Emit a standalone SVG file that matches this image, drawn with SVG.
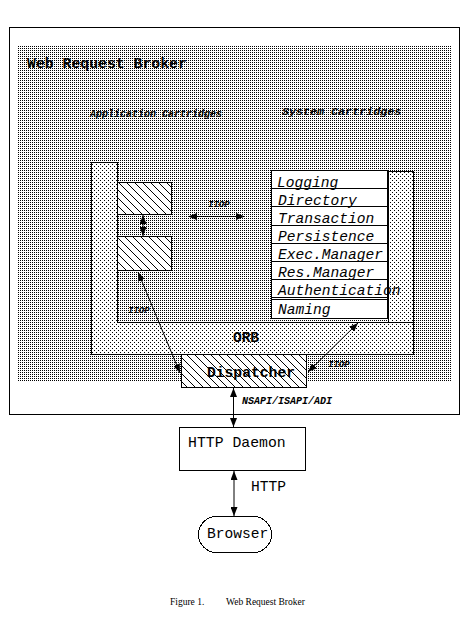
<svg xmlns="http://www.w3.org/2000/svg" width="468" height="618" viewBox="0 0 468 618">
<style>
.box{stroke:#000;stroke-width:1;shape-rendering:crispEdges}
.mono{font-family:"Liberation Mono","DejaVu Sans Mono",monospace;fill:#000}
.b{font-weight:bold}
.i{font-style:italic}
.ln{stroke:#000;stroke-width:1;fill:none}
.row{stroke:#000;stroke-width:1;shape-rendering:crispEdges}
</style>
<defs>
<pattern id="dense" width="2" height="2" patternUnits="userSpaceOnUse">
<rect x="0" y="0" width="2" height="2" fill="#fff"/>
<rect x="0" y="0" width="1" height="1" fill="#000" shape-rendering="crispEdges"/>
</pattern>
<pattern id="light" width="4" height="4" patternUnits="userSpaceOnUse">
<rect x="0" y="0" width="4" height="4" fill="#fff"/>
<rect x="0" y="0" width="1" height="1" fill="#000" shape-rendering="crispEdges"/>
<rect x="2" y="2" width="1" height="1" fill="#000" shape-rendering="crispEdges"/>
</pattern>
<pattern id="hatch" width="8" height="8" patternUnits="userSpaceOnUse">
<rect x="0" y="0" width="8" height="8" fill="#fff"/>
<path d="M0,0 L8,8 M-1,7 L1,9 M7,-1 L9,1" stroke="#000" stroke-width="1"/>
</pattern>
<marker id="ah" viewBox="0 0 9 7" refX="9" refY="3.5" markerWidth="9" markerHeight="7" markerUnits="userSpaceOnUse" orient="auto-start-reverse">
<path d="M0,0 L9,3.5 L0,7 z" fill="#000"/>
</marker>
</defs>
<rect x="0" y="0" width="468" height="618" fill="#fff"/>

<g id="outer-frame">
<rect class="box" x="9.5" y="27.5" width="450" height="387" fill="#fff"/>
</g>

<g id="web-request-broker">
<rect x="18" y="45" width="433" height="337" fill="url(#dense)"/>
<text class="mono b" x="27" y="68" font-size="14.8">Web Request Broker</text>
<text class="mono b i" x="90" y="117" font-size="10">Application Cartridges</text>
<text class="mono b i" x="282" y="115" font-size="11.7">System Cartridges</text>
</g>

<g id="orb">
<rect class="box" x="91.5" y="162.5" width="26" height="160" fill="url(#light)"/>
<rect class="box" x="388.5" y="171.5" width="25" height="151" fill="url(#light)"/>
<rect class="box" x="91.5" y="322.5" width="322" height="32" fill="url(#light)"/>
<rect x="92" y="321" width="25" height="3" fill="url(#light)"/>
<text class="mono b" x="246" y="342" font-size="14.5" text-anchor="middle">ORB</text>
</g>

<g id="app-cartridge-1">
<rect class="box" x="117.5" y="182.5" width="54" height="32" fill="url(#hatch)"/>
</g>
<g id="app-cartridge-2">
<rect class="box" x="117.5" y="236.5" width="54" height="34" fill="url(#hatch)"/>
</g>

<g id="system-cartridges">
<rect class="box" x="271.5" y="170.5" width="116" height="148" fill="#fff"/>
<path class="row" d="M271,188.5 H388 M271,206.5 H388 M271,225.5 H388 M271,243.5 H388 M271,261.5 H388 M271,279.5 H388 M271,297.5 H388 M271,299.5 H388"/>
<g class="mono i" font-size="14.6">
<text x="277" y="187">Logging</text>
<text x="278" y="205">Directory</text>
<text x="278" y="223">Transaction</text>
<text x="278" y="241">Persistence</text>
<text x="278" y="259">Exec.Manager</text>
<text x="278" y="277">Res.Manager</text>
<text x="278" y="295">Authentication</text>
<text x="278" y="314">Naming</text>
</g>
</g>

<g id="dispatcher">
<rect class="box" x="181.5" y="354.5" width="125" height="33" fill="url(#hatch)"/>
<text class="mono b" x="251" y="377" font-size="14.7" text-anchor="middle">Dispatcher</text>
</g>

<g id="http-daemon">
<rect class="box" x="179.5" y="427.5" width="126" height="43" fill="#fff"/>
<text class="mono" x="188" y="447" font-size="14.8">HTTP Daemon</text>
</g>

<g id="browser">
<rect class="box" x="198.5" y="516.5" width="73" height="36" rx="18" ry="18" fill="#fff" shape-rendering="auto"/>
<text class="mono" x="207" y="538" font-size="14.6">Browser</text>
</g>

<g id="connectors">
<line class="ln" x1="143" y1="215" x2="143" y2="236" stroke-width="2" marker-start="url(#ah)" marker-end="url(#ah)"/>
<line class="ln" x1="188" y1="216.5" x2="245" y2="216.5" marker-start="url(#ah)" marker-end="url(#ah)"/>
<line class="ln" x1="138" y1="272" x2="180" y2="373" stroke-width="0.8" marker-start="url(#ah)" marker-end="url(#ah)"/>
<line class="ln" x1="308" y1="372" x2="358" y2="323" stroke-width="0.8" marker-start="url(#ah)" marker-end="url(#ah)"/>
<line class="ln" x1="233.5" y1="388" x2="233.5" y2="427" stroke-width="1.5" marker-start="url(#ah)" marker-end="url(#ah)"/>
<line class="ln" x1="234" y1="471" x2="234" y2="516" stroke-width="1.2" marker-start="url(#ah)" marker-end="url(#ah)"/>
</g>

<g id="labels">
<text class="mono b i" x="208" y="207" font-size="9">IIOP</text>
<text class="mono b i" x="128" y="313" font-size="9">IIOP</text>
<text class="mono b i" x="328" y="367" font-size="9">IIOP</text>
<text class="mono b i" x="242" y="404" font-size="10">NSAPI/ISAPI/ADI</text>
<text class="mono" x="251" y="491" font-size="14.6">HTTP</text>
</g>

<g id="caption">
<text x="170" y="605" font-family="Liberation Serif, serif" font-size="9.5">Figure 1.</text>
<text x="226" y="605" font-family="Liberation Serif, serif" font-size="9.5">Web Request Broker</text>
</g>
</svg>
